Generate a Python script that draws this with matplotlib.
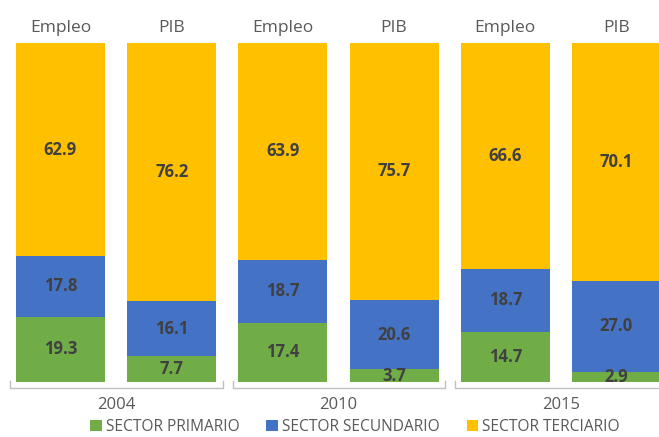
import matplotlib.pyplot as plt
import numpy as np

plt.rcParams['font.family'] = ['Open Sans', 'DejaVu Sans']

# Data
years = ['2004', '2010', '2015']
kinds = ['Empleo', 'PIB', 'Empleo', 'PIB', 'Empleo', 'PIB']
primario = [19.3, 7.7, 17.4, 3.7, 14.7, 2.9]
secundario = [17.8, 16.1, 18.7, 20.6, 18.7, 27.0]
terciario = [62.9, 76.2, 63.9, 75.7, 66.6, 70.1]

series = [('SECTOR PRIMARIO', primario, '#70AD47'),
          ('SECTOR SECUNDARIO', secundario, '#4472C4'),
          ('SECTOR TERCIARIO', terciario, '#FFC000')]

fig = plt.figure(figsize=(6.59, 4.37), dpi=100)
ax = fig.add_axes([0, 0.1259, 1, 0.7757])

x = np.arange(len(kinds))
bottom = np.zeros(len(kinds))
handles = []
for name, vals, color in series:
    bars = ax.bar(x, vals, 0.8, bottom=bottom, color=color, label=name)
    handles.append(bars)
    for xi, v, b in zip(x, vals, bottom):
        ax.text(xi, b + v / 2, f'{v:.1f}', ha='center', va='center',
                fontsize=12, fontweight='bold', color='#404040')
    bottom += np.array(vals)

# category labels on top of bars
for xi, k in zip(x, kinds):
    ax.text(xi, 104.4, k, ha='center', va='center', fontsize=12.5,
            color='#595959', clip_on=False)

# year brackets below the bars
for g, yr in enumerate(years):
    x0 = 2 * g - 0.45
    x1 = 2 * g + 1.46
    ax.plot([x0, x0, x1, x1], [0.3, -1.8, -1.8, 0.3], color='#bfbfbf',
            lw=1, clip_on=False)
    ax.text(2 * g + 0.5, -6.8, yr, ha='center', va='center', fontsize=12,
            color='#595959', clip_on=False)

ax.set_xlim(-0.544, 5.382)
ax.set_ylim(0, 100)
ax.axis('off')

fig.legend(handles=handles, loc='center', bbox_to_anchor=(0.539, 0.022),
           ncol=3, frameon=False, fontsize=11.2, labelcolor='#595959',
           handlelength=0.72, handleheight=0.72, handletextpad=0.3,
           columnspacing=1.7, borderpad=0)

fig.savefig('out.png', dpi=100)
